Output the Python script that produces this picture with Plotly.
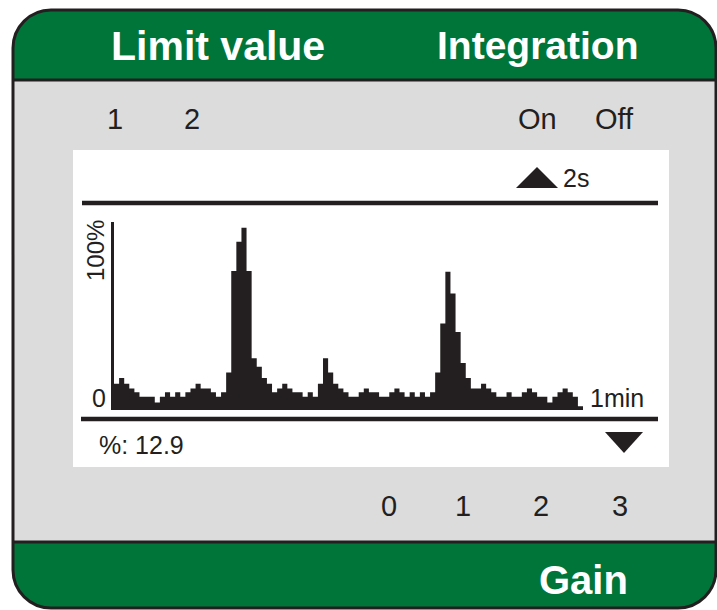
import plotly.graph_objects as go

# ---- data (percent of full scale) ----
bar_values = [14, 17, 14, 11.5, 9.5, 7, 7, 7, 4, 7,
              9.5, 7, 9.5, 7, 9.5, 11.5, 14, 11.5, 11.5, 9.5,
              7, 9.5, 20, 74, 89.5, 97, 74, 27.5, 23, 17,
              14, 9.5, 11.5, 14, 11.5, 9.5, 9.5, 7, 9.5, 7,
              14, 27.5, 20, 14, 11.5, 9.5, 7, 7, 9.5, 11.5,
              9.5, 9.5, 7, 7, 9.5, 11.5, 9.5, 7, 9.5, 7,
              9.5, 7, 9.5, 20, 46, 73.5, 62, 41.5, 25, 17,
              11.5, 11.5, 14, 11.5, 9.5, 7, 7, 9.5, 7, 7,
              9.5, 11.5, 9.5, 7, 7, 4, 7, 9.5, 11.5, 9.5,
              7, 2]

header_labels = ["Limit value", "Integration"]
footer_label = "Gain"
limit_options = ["1", "2"]
integration_options = ["On", "Off"]
gain_options = ["0", "1", "2", "3"]
readout_label = "%: 12.9"
y_top_label = "100%"
y_zero_label = "0"
time_label = "1min"
step_label = "2s"

# ---- geometry helpers (pixel -> paper) ----
W, H = 717, 610
def px(x):
    return x / W
def py(y):
    return 1 - y / H

DARK = "#231f20"
GREEN = "#00753a"
GRAY = "#dcdcdc"

def rounded_rect(x0, y0, x1, y1, r):
    k = 0.5523 * r
    pts = [
        f"M {px(x0 + r)},{py(y0)}",
        f"L {px(x1 - r)},{py(y0)}",
        f"C {px(x1 - r + k)},{py(y0)} {px(x1)},{py(y0 + r - k)} {px(x1)},{py(y0 + r)}",
        f"L {px(x1)},{py(y1 - r)}",
        f"C {px(x1)},{py(y1 - r + k)} {px(x1 - r + k)},{py(y1)} {px(x1 - r)},{py(y1)}",
        f"L {px(x0 + r)},{py(y1)}",
        f"C {px(x0 + r - k)},{py(y1)} {px(x0)},{py(y1 - r + k)} {px(x0)},{py(y1 - r)}",
        f"L {px(x0)},{py(y0 + r)}",
        f"C {px(x0)},{py(y0 + r - k)} {px(x0 + r - k)},{py(y0)} {px(x0 + r)},{py(y0)}",
        "Z",
    ]
    return " ".join(pts)

def poly(points):
    return "M " + " L ".join(f"{px(x)},{py(y)}" for x, y in points) + " Z"

X0, Y0, X1, Y1, R = 13, 10, 716, 608, 38

shapes = []
shapes.append(dict(type="path", path=rounded_rect(X0, Y0, X1, Y1, R), xref="paper", yref="paper",
                   fillcolor=GREEN, line=dict(width=0), layer="below"))
shapes.append(dict(type="rect", xref="paper", yref="paper", x0=px(X0), x1=px(X1), y0=py(80), y1=py(542),
                   fillcolor=GRAY, line=dict(width=0), layer="below"))
for yy in (80, 542):
    shapes.append(dict(type="line", xref="paper", yref="paper", x0=px(X0), x1=px(X1), y0=py(yy), y1=py(yy),
                       line=dict(color=DARK, width=3), layer="below"))
shapes.append(dict(type="path", path=rounded_rect(X0, Y0, X1, Y1, R), xref="paper", yref="paper",
                   fillcolor="rgba(0,0,0,0)", line=dict(color=DARK, width=3), layer="below"))
shapes.append(dict(type="rect", xref="paper", yref="paper", x0=px(73), x1=px(669), y0=py(150), y1=py(467),
                   fillcolor="white", line=dict(width=0), layer="below"))
for yy, xa in ((203, 82), (419, 81)):
    shapes.append(dict(type="line", xref="paper", yref="paper", x0=px(xa), x1=px(658), y0=py(yy), y1=py(yy),
                       line=dict(color=DARK, width=4.5), layer="below"))
shapes.append(dict(type="path", path=poly([(516, 188), (537, 167), (558, 188)]), xref="paper", yref="paper",
                   fillcolor=DARK, line=dict(width=0), layer="below"))
shapes.append(dict(type="path", path=poly([(605, 432), (643, 432), (624, 453)]), xref="paper", yref="paper",
                   fillcolor=DARK, line=dict(width=0), layer="below"))

FONT = "Liberation Sans, Arial, sans-serif"
annotations = []
def ann(text, x, y, size, color=DARK, bold=False, xanchor="center", angle=0):
    t = f"<b>{text}</b>" if bold else text
    annotations.append(dict(text=t, x=px(x), y=py(y), xref="paper", yref="paper", showarrow=False,
                            xanchor=xanchor, yanchor="middle", textangle=angle,
                            font=dict(family=FONT, size=size, color=color)))

ann(header_labels[0], 218, 46, 41, color="white", bold=True)
ann(header_labels[1], 538, 46, 39, color="white", bold=True)
ann(footer_label, 583, 580, 40, color="white", bold=True)
for lab, x in zip(limit_options, (115, 192)):
    ann(lab, x, 119, 29)
for lab, x in zip(integration_options, (537, 614)):
    ann(lab, x, 119, 29)
for lab, x in zip(gain_options, (389, 463, 541, 620)):
    ann(lab, x, 506, 29)
ann(step_label, 576, 178, 25)
ann(time_label, 617, 398, 25)
ann(y_zero_label, 99, 398, 25)
ann(y_top_label, 95, 251, 24, angle=-90)
ann(readout_label, 97, 445, 25, xanchor="left")

# step outline of the bars: each bar spans [i-0.5, i+0.5]
n = len(bar_values)
edges = [i + 0.5 for i in range(n + 1)]
step_y = bar_values + [bar_values[-1]]

fig = go.Figure()
fig.add_trace(go.Scatter(x=edges, y=step_y, mode="lines", line=dict(shape="hv", width=0, color=DARK),
                         fill="tozeroy", fillcolor=DARK, hoverinfo="skip", showlegend=False))

fig.update_layout(
    width=W, height=H, autosize=False,
    margin=dict(l=0, r=0, t=0, b=0),
    paper_bgcolor="white", plot_bgcolor="rgba(0,0,0,0)",
    shapes=shapes, annotations=annotations,
    xaxis=dict(domain=[px(114), px(583)], range=[0.5, n + 0.5],
               showgrid=False, zeroline=False, showticklabels=False, ticks="", showline=False, fixedrange=True),
    yaxis=dict(domain=[py(410), py(222)], range=[0, 100],
               showgrid=False, zeroline=False, showticklabels=False, ticks="",
               showline=True, linecolor=DARK, linewidth=3, fixedrange=True),
)

fig.write_html("out.html", config={"displayModeBar": False},
               post_script="document.body.style.margin='0';document.body.style.overflow='hidden';")
